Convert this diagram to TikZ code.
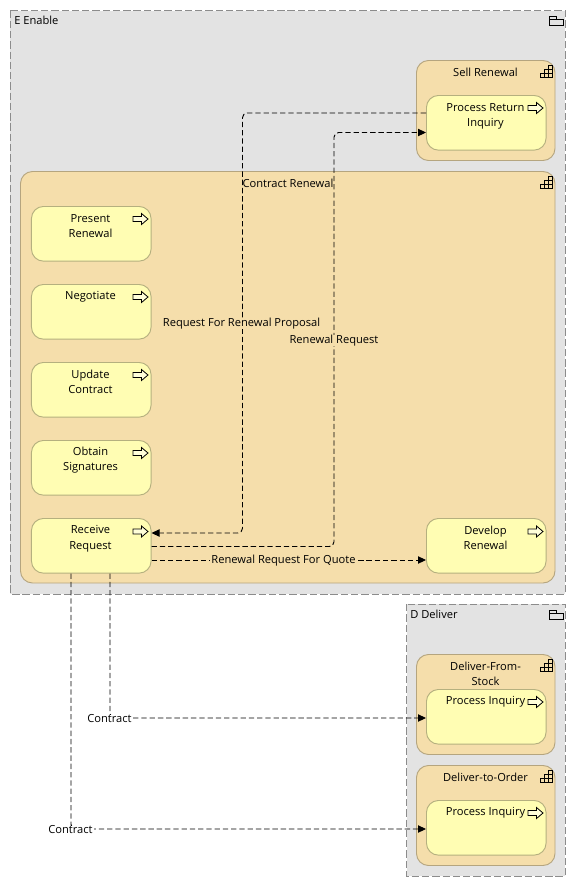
\documentclass[tikz,border=0pt]{standalone}
\usepackage{fontspec}
\setmainfont{Open Sans}
\usetikzlibrary{arrows.meta}
\definecolor{grp}{HTML}{E3E3E3}
\definecolor{grpline}{HTML}{8C8C8C}
\definecolor{tanf}{HTML}{F5DEAB}
\definecolor{tanline}{HTML}{B5A57F}
\definecolor{yel}{HTML}{FFFDB3}
\definecolor{yelline}{HTML}{B5B07F}
\tikzset{
  x=0.75pt,y=-0.75pt,
  lbl/.style={font=\fontsize{8.35pt}{11.4pt}\selectfont,text=black,inner sep=0pt,align=center,yshift=-1.3pt},
  grpbox/.style={draw=grpline,fill=grp,dash pattern=on 5.5pt off 2.2pt,line width=0.7pt},
  tanbox/.style={draw=tanline,fill=tanf,rounded corners=9pt,line width=0.7pt},
  yelbox/.style={draw=yelline,fill=yel,rounded corners=9pt,line width=0.7pt,minimum width=89.7pt,minimum height=41pt,inner sep=0pt,anchor=north west},
  conn/.style={draw=black,line width=0.7pt,dash pattern=on 4pt off 2.2pt,rounded corners=3.5pt},
  arr/.style={conn,-{Triangle[length=6pt,width=5.5pt]}},
  ico/.style={draw=black,line width=0.6pt},
  whitelbl/.style={lbl,fill=white,inner xsep=1pt},
  tanlbl/.style={lbl,fill=tanf,inner xsep=1pt}
}
\newcommand{\procicon}[2]{%
  \begin{scope}[shift={(#1,#2)}]
  \draw[ico,fill=yel!50!white] (-15,-2.5)--(-6.5,-2.5)--(-6.5,-5.5)--(0,0)--(-6.5,5.5)--(-6.5,2.5)--(-15,2.5)--cycle;
  \end{scope}}
\newcommand{\capicon}[2]{%
  \begin{scope}[shift={(#1,#2)}]
  \draw[ico] (-12,0)--(0,0)--(0,-12)--(-4,-12)--(-4,-8)--(-8,-8)--(-8,-4)--(-12,-4)--cycle;
  \draw[ico] (-8,-4)--(0,-4) (-4,-8)--(0,-8) (-8,-4)--(-8,0) (-4,-8)--(-4,0);
  \end{scope}}
\newcommand{\packicon}[2]{%
  \begin{scope}[shift={(#1,#2)}]
  \draw[ico] (0,0)--(7,0)--(7,3)--(14,3)--(14,9)--(0,9)--cycle (0,3)--(7,3);
  \end{scope}}
\begin{document}
\begin{tikzpicture}
\useasboundingbox (0.5,0.5) rectangle (576.5,886.5);
\fill[white] (0.5,0.5) rectangle (576.5,886.5);
% groups
\path[grpbox] (11,11) rectangle (565.5,594.5);
\path[grpbox] (407,604.5) rectangle (565.5,876.5);
\node[lbl,anchor=west] (enable) at (14.5,19.5) {E Enable};
\node[lbl,anchor=west] (deliver) at (410.5,613.5) {D Deliver};
\packicon{549.5}{17}
\packicon{549.5}{611}
% capabilities
\path[tanbox] (417,61) rectangle (555.5,161);
\path[tanbox] (21,172) rectangle (555.5,583.5);
\path[tanbox] (417,655) rectangle (555.5,755);
\path[tanbox] (417,766) rectangle (555.5,866);
\node[lbl] (sell) at (486,71.5) {Sell Renewal};
\node[lbl] (dfs) at (486,672.5) {Deliver-From-\\Stock};
\node[lbl] (dto) at (486,776.5) {Deliver-to-Order};
\capicon{552.5}{78}
\capicon{552.5}{189}
\capicon{552.5}{672}
\capicon{552.5}{783}
% processes
\node[yelbox] (pri) at (426.5,95.5) {};
\node[yelbox] (pr) at (31.5,206.5) {};
\node[yelbox] (neg) at (31.5,284.5) {};
\node[yelbox] (uc) at (31.5,362.5) {};
\node[yelbox] (os) at (31.5,440.5) {};
\node[yelbox] (rr) at (31.5,518.5) {};
\node[yelbox] (dr) at (426.5,518.5) {};
\node[yelbox] (pi1) at (426.5,689.5) {};
\node[yelbox] (pi2) at (426.5,800.5) {};
\procicon{148.5}{219.5}\procicon{148.5}{297.5}\procicon{148.5}{375.5}\procicon{148.5}{453.5}\procicon{148.5}{532}
\procicon{543.5}{108.5}\procicon{543.5}{532}\procicon{543.5}{702.5}\procicon{543.5}{813.5}
\node[lbl] at (91,224.5) {Present\\Renewal};
\node[lbl] at (91,295.5) {Negotiate};
\node[lbl] at (91,380.5) {Update\\Contract};
\node[lbl] at (91,458.5) {Obtain\\Signatures};
\node[lbl] at (91,537.5) {Receive\\Request};
\node[lbl] at (486,115.5) {Process Return\\Inquiry};
\node[lbl] at (486,536.5) {Develop\\Renewal};
\node[lbl] at (486,700.5) {Process Inquiry};
\node[lbl] at (486,811.5) {Process Inquiry};
% connectors
\coordinate (a1) at (243,113.5);
\coordinate (a2) at (151,533.5);
\coordinate (b1) at (334.5,547);
\coordinate (b2) at (426,133);
\coordinate (c0) at (151,560.5);
\coordinate (c1) at (110.5,718.5);
\coordinate (d1) at (71.5,829.5);
\draw[arr] (pri.west|-a1) -- (a1) -- (a1|-a2) -- (rr.east|-a2);
\draw[arr] (rr.east|-b1) -- (b1) -- (b1|-b2) -- (pri.west|-b2);
\draw[arr] (rr.east|-c0) -- (dr.west|-c0);
\draw[arr] (rr.south-|c1) -- (c1) -- (pi1.west|-c1);
\draw[arr] (rr.south-|d1) -- (d1) -- (pi2.west|-d1);
% labels
\node[lbl] (l0) at (288.5,182.5) {Contract Renewal};
\node[tanlbl] (l1) at (242,322.5) {Request For Renewal Proposal};
\node[tanlbl] (l2) at (334.5,339.5) {Renewal Request};
\node[tanlbl] (l3) at (284,559.5) {Renewal Request For Quote};
\node[whitelbl] (l4) at (110,717.5) {Contract};
\node[whitelbl] (l5) at (71,828.5) {Contract};
\end{tikzpicture}
\end{document}
